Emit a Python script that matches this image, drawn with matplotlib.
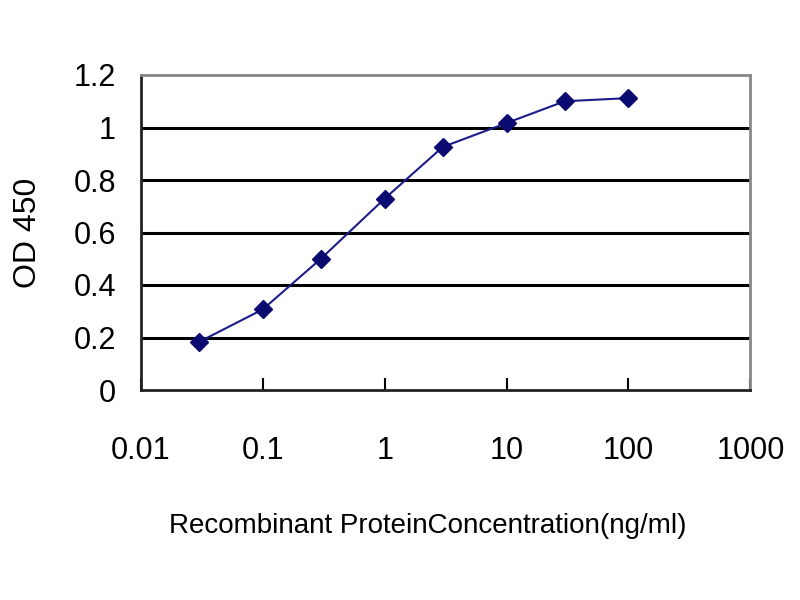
import numpy as np
import matplotlib
matplotlib.use('Agg')
import matplotlib.pyplot as plt

plt.rcParams['font.family'] = ['Liberation Sans', 'DejaVu Sans']

# data
conc = [0.03, 0.1, 0.3, 1, 3, 10, 30, 100]
od450 = [0.183, 0.307, 0.500, 0.729, 0.926, 1.017, 1.100, 1.112]
xticks = [0.01, 0.1, 1, 10, 100, 1000]
xticklabels = ['0.01', '0.1', '1', '10', '100', '1000']
yticks = [0, 0.2, 0.4, 0.6, 0.8, 1, 1.2]
yticklabels = ['0', '0.2', '0.4', '0.6', '0.8', '1', '1.2']

fig = plt.figure(figsize=(8, 6), dpi=100)
ax = fig.add_axes([0.176, 0.35, 0.762, 0.525])

for y in yticks[1:-1]:
    ax.axhline(y, color='k', lw=2.2, zorder=1)

ax.plot(conc, od450, color='#1c1c8a', lw=1.5, marker='D', markersize=9,
        markerfacecolor='#0a0a70', markeredgecolor='#0a0a70', zorder=3)

ax.set_xscale('log')
ax.set_xlim(0.01, 1000)
ax.set_ylim(0, 1.2)
ax.set_xticks(xticks)
ax.set_xticklabels(xticklabels)
ax.set_yticks(yticks)
ax.set_yticklabels(yticklabels)
ax.minorticks_off()

ax.tick_params(axis='x', direction='in', length=9, width=1.5, pad=33, labelsize=22)
ax.tick_params(axis='y', length=0, pad=18, labelsize=22)

for s in ['left', 'bottom']:
    ax.spines[s].set_color('#222222')
    ax.spines[s].set_linewidth(2)
for s in ['top', 'right']:
    ax.spines[s].set_color('#888888')
    ax.spines[s].set_linewidth(2)

ax.set_xlabel('Recombinant ProteinConcentration(ng/ml)', fontsize=20, labelpad=34)
ax.xaxis.label.set_x(0.47)
ax.set_ylabel('OD 450', fontsize=23, labelpad=22)

fig.savefig('out.png', dpi=100)
